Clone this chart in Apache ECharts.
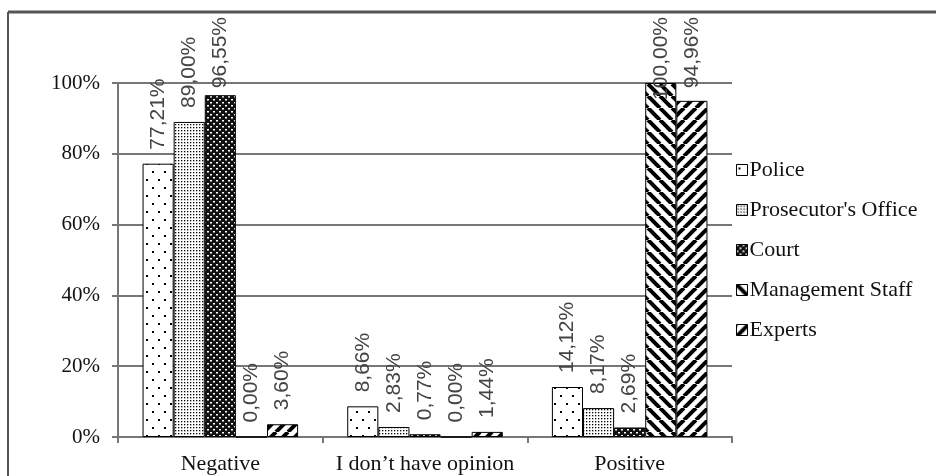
<!DOCTYPE html>
<html>
<head>
<meta charset="utf-8">
<script src="https://cdn.jsdelivr.net/npm/echarts@6/dist/echarts.min.js"></script>
<style>
html,body{margin:0;padding:0;background:#fff;}
#chart{width:936px;height:476px;}
</style>
</head>
<body>
<div id="chart"></div>
<script>
const categories = ["Negative", "I don\u2019t have opinion", "Positive"];
const seriesNames = ["Police", "Prosecutor's Office", "Court", "Management Staff", "Experts"];
const police = [77.21, 8.66, 14.12];
const prosecutor = [89.00, 2.83, 8.17];
const court = [96.55, 0.77, 2.69];
const management = [0.00, 0.00, 100.00];
const experts = [3.60, 1.44, 94.96];
const yTicks = [0, 20, 40, 60, 80, 100];

function tile(w, h, draw) {
  const c = document.createElement('canvas');
  c.width = w; c.height = h;
  const g = c.getContext('2d');
  draw(g, w, h);
  return { image: c, repeat: 'repeat' };
}
const patterns = [
  tile(12, 16, (g, w, h) => {
    g.fillStyle = '#fff'; g.fillRect(0, 0, w, h);
    g.fillStyle = '#000';
    g.fillRect(2, 3, 2, 2); g.fillRect(8, 11, 2, 2);
  }),
  tile(3, 3, (g, w, h) => {
    g.fillStyle = '#fff'; g.fillRect(0, 0, w, h);
    g.fillStyle = '#000'; g.fillRect(1, 1, 1.3, 1.3);
  }),
  tile(6, 6, (g, w, h) => {
    g.fillStyle = '#111'; g.fillRect(0, 0, w, h);
    g.fillStyle = '#fff';
    g.fillRect(0, 0, 2, 1.5); g.fillRect(3, 3, 2, 1.5);
  }),
  tile(12, 12, (g, w, h) => {
    g.fillStyle = '#fff'; g.fillRect(0, 0, w, h);
    g.strokeStyle = '#000'; g.lineWidth = 4;
    for (const k of [-12, 0, 12]) { g.beginPath(); g.moveTo(k, 0); g.lineTo(k + 12, 12); g.stroke(); }
  }),
  tile(12, 12, (g, w, h) => {
    g.fillStyle = '#fff'; g.fillRect(0, 0, w, h);
    g.strokeStyle = '#000'; g.lineWidth = 4;
    for (const k of [-12, 0, 12]) { g.beginPath(); g.moveTo(k, 12); g.lineTo(k + 12, 0); g.stroke(); }
  })
];

const dataArrays = [police, prosecutor, court, management, experts];
const serif = '"Liberation Serif", "Times New Roman", serif';
const sans = '"Liberation Sans", Arial, sans-serif';

const chart = echarts.init(document.getElementById('chart'), null, { renderer: 'canvas' });
chart.setOption({
  backgroundColor: '#fff',
  animation: false,
  graphic: [
    { type: 'line', shape: { x1: 8, y1: 12, x2: 936, y2: 12 }, style: { stroke: '#555', lineWidth: 3 } },
    { type: 'line', shape: { x1: 8, y1: 12, x2: 8, y2: 476 }, style: { stroke: '#555', lineWidth: 2 } }
  ],
  grid: { left: 118, top: 83, right: 204, bottom: 39, containLabel: false },
  legend: {
    orient: 'vertical',
    left: 731,
    top: 153,
    itemWidth: 11,
    itemHeight: 11,
    itemGap: 16,
    icon: 'rect',
    textStyle: { fontFamily: serif, fontSize: 22, color: '#111', lineHeight: 24, padding: [0, 0, 0, -3] },
    itemStyle: { borderColor: '#000', borderWidth: 1 },
    data: seriesNames
  },
  xAxis: {
    type: 'category',
    data: categories,
    axisLine: { lineStyle: { color: '#777', width: 2 } },
    axisTick: { show: true, length: 6, lineStyle: { color: '#777', width: 2 } },
    axisLabel: { interval: 0, fontFamily: serif, fontSize: 22, color: '#111', margin: 16 }
  },
  yAxis: {
    type: 'value',
    min: yTicks[0],
    max: yTicks[yTicks.length - 1],
    interval: 20,
    axisLine: { show: true, lineStyle: { color: '#777', width: 2 } },
    axisTick: { show: true, length: 6, lineStyle: { color: '#777', width: 2 } },
    splitLine: { lineStyle: { color: '#777', width: 2 } },
    axisLabel: { fontFamily: serif, fontSize: 21, color: '#111', margin: 18, formatter: '{value}%' }
  },
  labelLayout: function (p) {
    const r = p.labelRect;
    const minTop = 17;
    if (r.y >= minTop) return {};
    return { x: r.x + r.width / 2, y: minTop + r.height };
  },
  series: seriesNames.map((name, i) => ({
    name: name,
    type: 'bar',
    data: dataArrays[i],
    barGap: '0%',
    barCategoryGap: '24%',
    itemStyle: { color: patterns[i], borderColor: '#000', borderWidth: 1 },
    labelLayout: function (p) {
      const r = p.labelRect;
      const minTop = 17;
      if (r.y >= minTop) return {};
      return { x: r.x + r.width / 2, y: minTop + r.height };
    },
    label: {
      show: true,
      position: 'top',
      rotate: 90,
      align: 'left',
      verticalAlign: 'middle',
      distance: 14,
      fontFamily: sans,
      fontSize: 21,
      color: '#444',
      formatter: p => p.value.toFixed(2).replace('.', ',') + '%'
    }
  }))
});
</script>
</body>
</html>
